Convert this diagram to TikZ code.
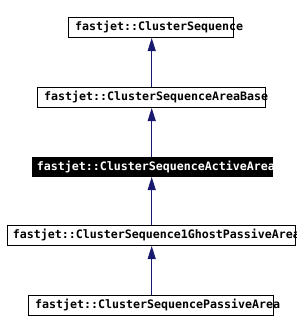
\documentclass[tikz,border=0pt]{standalone}
\usepackage{fontspec}
\setmonofont{DejaVu Sans Mono}
\usetikzlibrary{arrows.meta}
\definecolor{edgeblue}{HTML}{191970}
\begin{document}
\begin{tikzpicture}[x=1pt,y=-1pt,
  cls/.style={draw=black,line width=1pt,rectangle,inner sep=0pt,anchor=north west},
  lbl/.style={anchor=west,inner sep=0pt,font=\fontsize{11.63}{13}\selectfont\ttfamily\bfseries},
  inh/.style={draw=edgeblue,line width=1pt,-{Triangle[length=13pt,width=8pt]}}]
\useasboundingbox (0,0) rectangle (300,332);
\node[cls,minimum width=165pt,minimum height=20pt] (b1) at (68,17) {};
\node[cls,minimum width=228pt,minimum height=20pt] (b2) at (37,87) {};
\node[cls,fill=black,minimum width=240pt,minimum height=19pt] (b3) at (32,157) {};
\node[cls,minimum width=288pt,minimum height=20pt] (b4) at (7,225) {};
\node[cls,minimum width=245pt,minimum height=20pt] (b5) at (28,295) {};
\node[lbl] (t1) at (75,27.3) {fastjet::ClusterSequence};
\node[lbl] (t2) at (44,97.3) {fastjet::ClusterSequenceAreaBase};
\begin{scope}
\clip (b3.north west) rectangle (b3.south east);
\node[lbl,text=white] (t3) at (36.7,166.8) {fastjet::ClusterSequenceActiveArea};
\end{scope}
\begin{scope}
\clip (b4.north west) rectangle (b4.south east);
\node[lbl] (t4) at (12.7,235.3) {fastjet::ClusterSequence1GhostPassiveArea};
\end{scope}
\node[lbl] (t5) at (35,305.3) {fastjet::ClusterSequencePassiveArea};
\draw[inh] (b2.north -| 151.7,0) -- (b1.south -| 151.7,0);
\draw[inh] (b3.north -| 151.7,0) -- (b2.south -| 151.7,0);
\draw[inh] (b4.north -| 151.7,0) -- (b3.south -| 151.7,0);
\draw[inh] (b5.north -| 151.7,0) -- (b4.south -| 151.7,0);
\end{tikzpicture}
\end{document}
